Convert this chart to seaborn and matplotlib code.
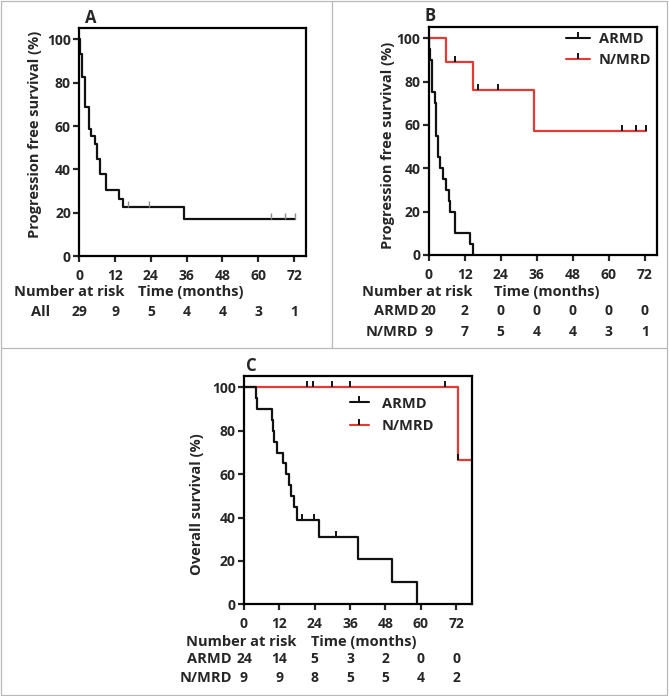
import matplotlib
matplotlib.use('Agg')
import matplotlib.pyplot as plt
from matplotlib.lines import Line2D
import matplotlib.transforms as mtransforms
import seaborn as sns

# -----------------------------
# DATA
# -----------------------------
risk_times = [0, 12, 24, 36, 48, 60, 72]

# panel A - all patients, PFS
a_t = [0, 0.25, 0.8, 1.9, 3.3, 3.8, 5.2, 6.0, 6.9, 9.1, 13.3, 14.7, 35.0, 72.3]
a_s = [100, 93.1, 82.8, 69.0, 58.6, 55.2, 51.7, 44.8, 37.9, 30.5, 26.5, 22.8, 17.1, 17.1]
a_cens_t = [16.3, 23.3, 64.4, 68.9, 72.2]
a_cens_s = [22.8, 22.8, 17.1, 17.1, 17.1]
a_risk_all = [29, 9, 5, 4, 4, 3, 1]

# panel B - PFS by group
b_armd_t = [0, 0.2, 0.5, 1.2, 2.0, 2.3, 3.0, 3.8, 4.9, 5.7, 6.6, 7.2, 8.8, 13.6, 14.9]
b_armd_s = [100, 95, 90, 75, 70, 55, 45, 40, 35, 30, 25, 20, 10, 5, 0]
b_mrd_t = [0, 5.7, 14.9, 35.1, 72.5]
b_mrd_s = [100, 88.9, 76.2, 57.1, 57.1]
b_mrd_cens_t = [8.6, 16.3, 23.2, 64.3, 69.0, 72.4]
b_mrd_cens_s = [88.9, 76.2, 76.2, 57.1, 57.1, 57.1]
b_risk_armd = [20, 2, 0, 0, 0, 0, 0]
b_risk_mrd = [9, 7, 5, 4, 4, 3, 1]

# panel C - OS by group
c_armd_t = [0, 4.1, 4.5, 9.4, 10.0, 10.3, 11.3, 13.4, 14.3, 15.4, 15.9, 17.0, 17.9,
            25.5, 38.8, 50.2, 58.7]
c_armd_s = [100, 95, 90, 85, 80, 75, 70, 65, 60, 55, 50, 45, 38.9,
            31.1, 20.8, 10.4, 0]
c_armd_cens_t = [19.6, 23.6, 31.1]
c_armd_cens_s = [38.9, 38.9, 31.1]
c_mrd_t = [0, 72.7, 77.4]
c_mrd_s = [100, 66.7, 66.7]
c_mrd_cens_t = [21.3, 23.3, 30.0, 36.0, 68.4, 72.8]
c_mrd_cens_s = [100, 100, 100, 100, 100, 66.7]
c_risk_armd = [24, 14, 5, 3, 2, 0, 0]
c_risk_mrd = [9, 9, 8, 5, 5, 4, 2]

RED = '#e53935'
BLACK = '#111111'
FS = 10.5      # words
FS_TICK = 10   # tick labels and numbers

# -----------------------------
# STYLE
# -----------------------------
sns.set_style("ticks")
plt.rcParams['font.family'] = ['Open Sans', 'DejaVu Sans']
plt.rcParams['font.weight'] = 'bold'
plt.rcParams['font.size'] = FS

W, H = 669, 696
fig = plt.figure(figsize=(W / 100, H / 100), dpi=100)


def px_axes(left, top, right, bottom):
    return fig.add_axes([left / W, 1 - bottom / H, (right - left) / W, (bottom - top) / H])


def style_axes(ax, xmax):
    ax.set_xlim(0, xmax)
    ax.set_ylim(0, 105.3)
    ax.set_xticks(risk_times)
    ax.set_yticks([0, 20, 40, 60, 80, 100])
    for s in ax.spines.values():
        s.set_visible(True)
        s.set_linewidth(1.6)
        s.set_color('black')
    ax.tick_params(axis='both', width=1.6, length=4.5, labelsize=FS_TICK, direction='out')
    ax.tick_params(axis='x', pad=5)
    ax.tick_params(axis='y', pad=1.5)
    for lab in ax.get_xticklabels() + ax.get_yticklabels():
        lab.set_fontweight('bold')
    ax.set_xlabel('')
    ax.set_ylabel('')


def step(ax, t, s, color, lw=1.6):
    sns.lineplot(x=t, y=s, drawstyle='steps-post', color=color, lw=lw,
                 estimator=None, sort=False, ax=ax)


def censor(ax, t, s, color, mew=1.4, ms=4.5):
    ax.plot(t, s, linestyle='none', marker=2, color=color, ms=ms, mew=mew)


def risk_table(ax, rows, label_x, ys, head_y, head_x, time_x):
    tr = mtransforms.blended_transform_factory(ax.transData, ax.transAxes)
    kw = dict(transform=tr, va='center', fontweight='bold', clip_on=False)
    ax.text(head_x, head_y, 'Number at risk', ha='left', fontsize=FS, **kw)
    ax.text(time_x, head_y, 'Time (months)', ha='center', fontsize=FS, **kw)
    for (name, vals), y in zip(rows, ys):
        ax.text(label_x, y, name, ha='right', fontsize=FS, **kw)
        for t, v in zip(risk_times, vals):
            ax.text(t, y, str(v), ha='center', fontsize=FS_TICK, **kw)


def panel_text(ax, ylab, ylab_x, ylab_y, letter, letter_x):
    ax.text(ylab_x, ylab_y, ylab, transform=ax.transAxes, rotation=90,
            ha='center', va='center', fontsize=FS, fontweight='bold')
    tr = mtransforms.blended_transform_factory(ax.transData, ax.transAxes)
    ax.text(letter_x, 1.045, letter, transform=tr, ha='center', va='center',
            fontsize=12, fontweight='bold')


def km_legend(ax, x, y, hlen, pad, spacing):
    handles = [Line2D([], [], color=BLACK, lw=1.5, marker=2, ms=4.5, mew=1.4),
               Line2D([], [], color=RED, lw=1.5, marker=2, ms=4.5, mew=1.4, mec=BLACK)]
    ax.legend(handles, ['ARMD', 'N/MRD'], loc='upper left', bbox_to_anchor=(x, y),
              frameon=False, handlelength=hlen, handletextpad=pad, labelspacing=spacing,
              borderpad=0, borderaxespad=0, prop={'size': FS, 'weight': 'bold'})


# -----------------------------
# PANEL A
# -----------------------------
ax_a = px_axes(79.3, 28, 306, 256)
step(ax_a, a_t, a_s, BLACK)
censor(ax_a, a_cens_t, a_cens_s, '0.55', mew=1.0)
style_axes(ax_a, 76)
panel_text(ax_a, 'Progression free survival (%)', -0.194, 0.535, 'A', 3.9)
risk_table(ax_a, [('All', a_risk_all)], -9.8, [-0.246], -0.158, -22, 37.2)

# -----------------------------
# PANEL B
# -----------------------------
ax_b = px_axes(428.7, 26.7, 656.7, 255)
step(ax_b, b_mrd_t, b_mrd_s, RED)
censor(ax_b, b_mrd_cens_t, b_mrd_cens_s, BLACK)
step(ax_b, b_armd_t, b_armd_s, BLACK)
style_axes(ax_b, 76)
panel_text(ax_b, 'Progression free survival (%)', -0.177, 0.482, 'B', 0.4)
risk_table(ax_b, [('ARMD', b_risk_armd), ('N/MRD', b_risk_mrd)], -3.5,
           [-0.244, -0.336], -0.162, -22.3, 39.3)
km_legend(ax_b, 0.60, 0.975, 1.7, 0.6, 0.45)

# -----------------------------
# PANEL C
# -----------------------------
ax_c = px_axes(244, 376, 472, 604.3)
step(ax_c, c_mrd_t, c_mrd_s, RED)
censor(ax_c, c_mrd_cens_t, c_mrd_cens_s, BLACK)
step(ax_c, c_armd_t, c_armd_s, BLACK)
censor(ax_c, c_armd_cens_t, c_armd_cens_s, BLACK)
style_axes(ax_c, 77.4)
panel_text(ax_c, 'Overall survival (%)', -0.207, 0.44, 'C', 2.4)
risk_table(ax_c, [('ARMD', c_risk_armd), ('N/MRD', c_risk_mrd)], -4.2,
           [-0.240, -0.323], -0.164, -19.7, 40.8)
km_legend(ax_c, 0.465, 0.91, 1.3, 0.9, 0.6)

# -----------------------------
# PANEL FRAMES
# -----------------------------
def frame_line(x0, y0, x1, y1):
    fig.add_artist(Line2D([x0 / W, x1 / W], [1 - y0 / H, 1 - y1 / H],
                          transform=fig.transFigure, color='#b8b8b8', lw=0.9))


frame_line(0.5, 0.5, 667, 0.5)
frame_line(0.5, 0.5, 0.5, 695)
frame_line(667, 0.5, 667, 695)
frame_line(0.5, 695, 667, 695)
frame_line(332, 0.5, 332, 348)
frame_line(0.5, 348, 667, 348)

fig.savefig('out.png', dpi=100)
plt.close(fig)
